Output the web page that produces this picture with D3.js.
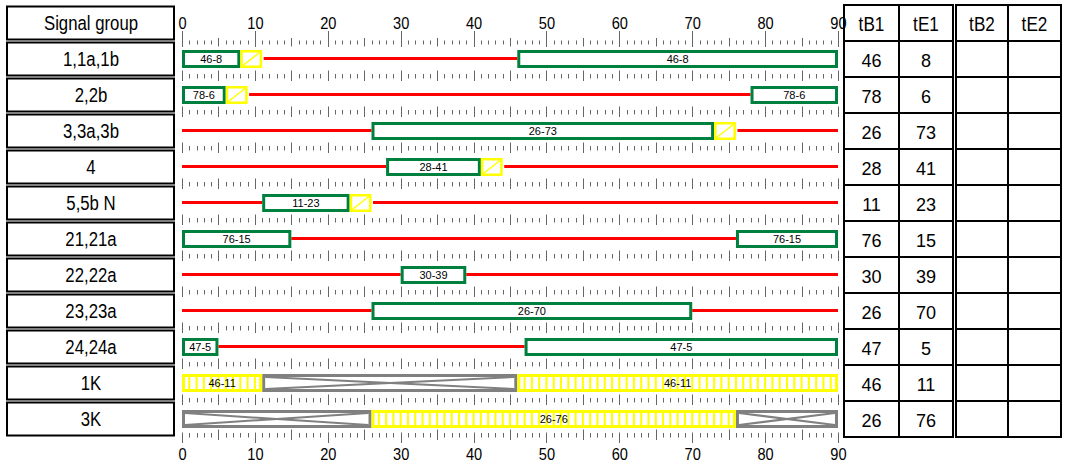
<!DOCTYPE html>
<html><head><meta charset="utf-8">
<script src="https://cdn.jsdelivr.net/npm/d3@7"></script>
<style>
html,body{margin:0;padding:0;background:#fff;}
text{font-family:Arial,"Liberation Sans",sans-serif;}
</style></head>
<body><svg id="c" width="1067" height="468"></svg>
<script>
// ---- data ----
const groups = ["1,1a,1b","2,2b","3,3a,3b","4","5,5b N","21,21a","22,22a","23,23a","24,24a","1K","3K"];
const tB1 = [46,78,26,28,11,76,30,26,47,46,26];
const tE1 = [8,6,73,41,23,15,39,70,5,11,76];
const amber = [3,3,3,3,3,0,0,0,0,0,0];
const kind = ["v","v","v","v","v","v","v","v","v","k","k"];
const cycle = 90;
const tickLabels = [0,10,20,30,40,50,60,70,80,90];
const tableHeaders = ["tB1","tE1","tB2","tE2"];

// ---- drawing ----
const svg = d3.select("#c");
const x = d3.scaleLinear().domain([0, cycle]).range([182, 838]);
const y = d3.scaleBand().domain(groups).range([41, 437]).padding(0);
const step = y.step();
const GREEN = "#00803e", YEL = "#ffff00", GRAY = "#808080", RED = "#ff0000";

function segs(a, b) { // interval a->b on cycle, may wrap
  if (a === b) return [];
  if (a < b) return [[a, b]];
  const r = [];
  if (a < cycle) r.push([a, cycle]);
  if (b > 0) r.push([0, b]);
  return r;
}

function ctext(g, cx, cy, str, size, sx) {
  g.append("text")
    .attr("transform", `translate(${cx},${cy}) scale(${sx},1)`)
    .attr("text-anchor", "middle").attr("dominant-baseline", "central")
    .attr("font-size", size).attr("fill", "#000").text(str);
}

// left table
const lt = svg.append("g");
const cells = [{name: "Signal group", top: 5}].concat(groups.map(gname => ({name: gname, top: y(gname)})));
cells.forEach(c => {
  lt.append("rect").attr("x", 7).attr("y", c.top + 1.5).attr("width", 167).attr("height", step - 3)
    .attr("fill", "none").attr("stroke", "#000").attr("stroke-width", 2);
  ctext(lt, 91, c.top + 19, c.name, 19.5, 0.86);
});

// right tables
const rt = svg.append("g");
const colEdges = [[844, 899, 953], [956, 1008, 1061]];
const colCenters = [871.5, 926, 982, 1034.5];
const rowEdges = [5].concat(groups.map(gname => y(gname))).concat([437]);
colEdges.forEach(e => {
  rt.append("rect").attr("x", e[0]).attr("y", 5).attr("width", e[2] - e[0]).attr("height", 432)
    .attr("fill", "none").attr("stroke", "#000").attr("stroke-width", 2);
  rt.append("line").attr("x1", e[1]).attr("x2", e[1]).attr("y1", 5).attr("y2", 437)
    .attr("stroke", "#000").attr("stroke-width", 2);
  rowEdges.slice(1, -1).forEach(ry => {
    rt.append("line").attr("x1", e[0]).attr("x2", e[2]).attr("y1", ry).attr("y2", ry)
      .attr("stroke", "#000").attr("stroke-width", 2);
  });
});
tableHeaders.forEach((h, i) => ctext(rt, colCenters[i], 24, h, 19.5, 0.88));
groups.forEach((gname, i) => {
  ctext(rt, colCenters[0], y(gname) + 19, tB1[i], 19, 0.95);
  ctext(rt, colCenters[1], y(gname) + 19, tE1[i], 19, 0.95);
});

// rulers
const rg = svg.append("g").attr("stroke", "#666").attr("stroke-width", 1);
const units = d3.range(0, cycle + 1);
const bounds = groups.map(gname => y(gname)).concat([437]);
bounds.forEach((b, bi) => {
  let c = b - 0.5;
  if (bi === 0) c = 42.5;
  if (bi === bounds.length - 1) c = 435.5;
  units.forEach(u => {
    const px = Math.round(x(u)) + 0.5;
    let y1, y2;
    if (u % 5 === 0) { y1 = c - 6; y2 = c + 4.5; } else { y1 = c - 2.5; y2 = c + 2; }
    if (u % 10 === 0 && bi === 0) y1 = 31;
    if (u % 10 === 0 && bi === bounds.length - 1) { y1 = c - 3; y2 = 443; }
    if (bi === 0 && u % 5 === 0 && u % 10 !== 0) { y1 = 38; y2 = 46.5; }
    if (bi === 0 && u % 5 !== 0) { y1 = 40.5; y2 = 44.5; }
    rg.append("line").attr("x1", px).attr("x2", px).attr("y1", y1).attr("y2", y2);
  });
});

// axis labels
const topAx = d3.axisTop(x).tickValues(tickLabels).tickSize(0).tickPadding(0);
const botAx = d3.axisBottom(x).tickValues(tickLabels).tickSize(0).tickPadding(0);
const ta = svg.append("g").attr("transform", "translate(0,29)").call(topAx);
const ba = svg.append("g").attr("transform", "translate(0,448)").call(botAx);
[ta, ba].forEach(a => {
  a.select(".domain").remove();
  a.attr("font-size", 17).attr("font-family", "Arial, 'Liberation Sans', sans-serif");
  a.selectAll(".tick text").attr("font-size", 17).attr("fill", "#000")
    .attr("transform", "scale(0.86,1)");
});

// bars
const bg = svg.append("g");
groups.forEach((gname, i) => {
  const top = y(gname);
  const by = top + 9, bh = 18, cy = top + 18;
  const lab = `${tB1[i]}-${tE1[i]}`;
  if (kind[i] === "v") {
    const endA = (tE1[i] + amber[i]) % cycle;
    // red
    segs(endA, tB1[i]).forEach(s => {
      bg.append("line").attr("x1", x(s[0]) + (s[0] === endA && amber[i] ? 1.5 : 0)).attr("x2", x(s[1]))
        .attr("y1", cy - 0.5).attr("y2", cy - 0.5).attr("stroke", RED).attr("stroke-width", 3);
    });
    // green
    segs(tB1[i], tE1[i]).forEach(s => {
      bg.append("rect").attr("x", x(s[0]) + 1.5).attr("y", by + 1.5)
        .attr("width", x(s[1]) - x(s[0]) - 3).attr("height", bh - 3)
        .attr("fill", "#fff").attr("stroke", GREEN).attr("stroke-width", 3);
      ctext(bg, (x(s[0]) + x(s[1])) / 2, cy, lab, 11, 1);
    });
    // amber
    if (amber[i]) {
      const a0 = x(tE1[i]), a1 = x(tE1[i] + amber[i]);
      bg.append("rect").attr("x", a0 + 1.25).attr("y", by + 1.25)
        .attr("width", a1 - a0 - 2.5).attr("height", bh - 2.5)
        .attr("fill", "#fff").attr("stroke", YEL).attr("stroke-width", 2.5);
      bg.append("line").attr("x1", a0 + 2).attr("y1", by + bh - 2).attr("x2", a1 - 2).attr("y2", by + 2)
        .attr("stroke", YEL).attr("stroke-width", 1.5);
    }
  } else {
    // gray crossed boxes
    segs(tE1[i], tB1[i]).forEach(s => {
      const a0 = x(s[0]), a1 = x(s[1]);
      bg.append("rect").attr("x", a0 + 1.5).attr("y", by + 1.5).attr("width", a1 - a0 - 3).attr("height", bh - 3)
        .attr("fill", "#fff").attr("stroke", GRAY).attr("stroke-width", 3);
      bg.append("line").attr("x1", a0 + 3).attr("y1", by + 3).attr("x2", a1 - 3).attr("y2", by + bh - 3)
        .attr("stroke", GRAY).attr("stroke-width", 2);
      bg.append("line").attr("x1", a0 + 3).attr("y1", by + bh - 3).attr("x2", a1 - 3).attr("y2", by + 3)
        .attr("stroke", GRAY).attr("stroke-width", 2);
    });
    // yellow hatched
    segs(tB1[i], tE1[i]).forEach(s => {
      const a0 = x(s[0]), a1 = x(s[1]);
      bg.append("rect").attr("x", a0 + 1.5).attr("y", by + 1.5).attr("width", a1 - a0 - 3).attr("height", bh - 3)
        .attr("fill", "#fff").attr("stroke", YEL).attr("stroke-width", 3);
      d3.range(Math.floor(s[0]) + 1, Math.ceil(s[1])).forEach(u => {
        bg.append("line").attr("x1", x(u)).attr("x2", x(u)).attr("y1", by + 2).attr("y2", by + bh - 2)
          .attr("stroke", YEL).attr("stroke-width", 2);
      });
      ctext(bg, (a0 + a1) / 2, cy, lab, 11, 1);
    });
  }
});
</script></body></html>
